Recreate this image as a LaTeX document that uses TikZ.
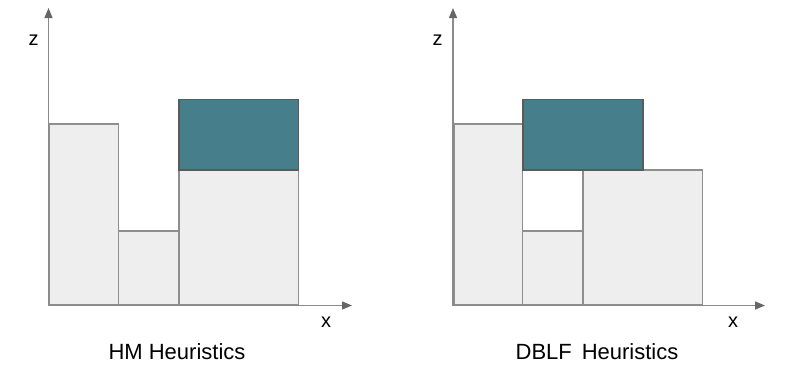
\documentclass[tikz,border=0pt]{standalone}
\usepackage{fontspec}
\setmainfont{Liberation Sans}
\usetikzlibrary{arrows.meta}
\definecolor{boxfill}{HTML}{EEEEEE}
\definecolor{boxline}{HTML}{8E8E8E}
\definecolor{tealfill}{HTML}{467F8B}
\definecolor{tealline}{HTML}{5A5A5A}
\definecolor{axisline}{HTML}{8A8A8A}
\definecolor{axistip}{HTML}{666666}
\tikzset{
  packbox/.style={fill=boxfill, draw=boxline, line width=1.4pt},
  newbox/.style={fill=tealfill, draw=tealline, line width=1.4pt},
  axis/.style={draw=axisline, line width=1.4pt, -{Triangle[length=10pt,width=8pt,color=axistip]}},
  axlabel/.style={font=\fontsize{20}{22}\selectfont, inner sep=0pt},
  title/.style={font=\fontsize{22}{24}\selectfont, inner sep=0pt}
}
\begin{document}
\begin{tikzpicture}[x=1pt,y=-1pt]
\useasboundingbox (0,0) rectangle (802,375);
% ---------- left: HM ----------
\coordinate (lo) at (48.5,305.5);
\coordinate (lz) at (48.5,8);
\coordinate (lx) at (352,305.5);
\draw[packbox] (49.5,124) rectangle (118.5,305);
\draw[packbox] (118.5,231) rectangle (179,305);
\draw[packbox] (179,170) rectangle (298.5,305);
\draw[newbox] (179,99.5) rectangle (298.5,170);
\draw[axis] (lo) -- (lz);
\draw[axis] (lo) -- (lx);
\node[axlabel] (lzl) at (33.5,40.5) {z};
\node[axlabel] (lxl) at (326,322) {x};
\node[title] (lt) at (177,351.5) {HM Heuristics};
% ---------- right: DBLF ----------
\coordinate (ro) at (453,305.5);
\coordinate (rz) at (453,8);
\coordinate (rx) at (765,305.5);
\draw[packbox] (454,124) rectangle (522.7,305);
\draw[packbox] (522.7,231) rectangle (583,305);
\draw[packbox] (583,170) rectangle (702.7,305);
\draw[newbox] (523,99.5) rectangle (643,170);
\draw[axis] (ro) -- (rz);
\draw[axis] (ro) -- (rx);
\node[axlabel] (rzl) at (437.5,40.5) {z};
\node[axlabel] (rxl) at (733,322) {x};
\node[title] (rt) at (597,351.5) {DBLF\hspace{0.45em}Heuristics};
\end{tikzpicture}
\end{document}
